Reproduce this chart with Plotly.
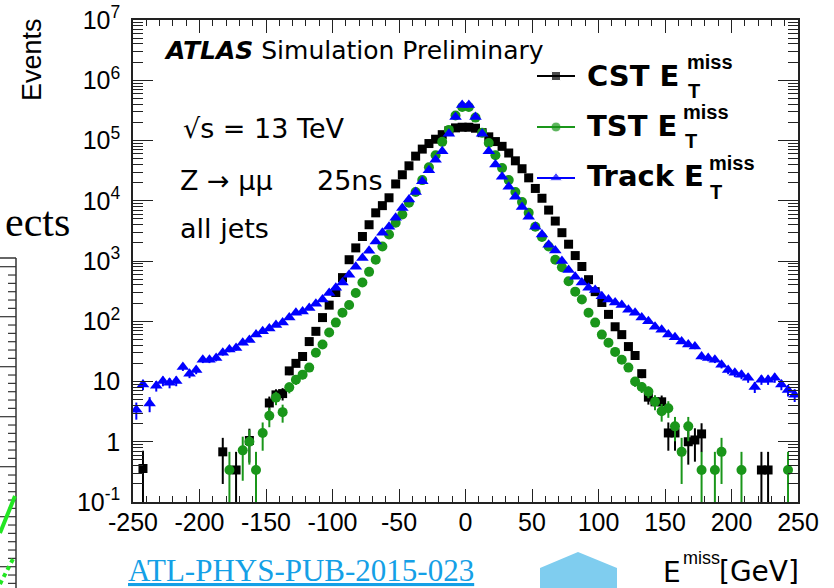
import numpy as np
import plotly.graph_objects as go

W, H = 834, 588

# ---------------- data (5 GeV bins, centres -247.5 ... 247.5) ----------------
bin_centers = [float(v) for v in np.arange(-247.5, 250.0, 5.0)]

# CST E_T^miss  (None = empty bin)
cst = [None, 0.36, None, None, None, None, None, None, None, None,
       None, None, None, 0.68, None, 0.34, None, 1.05, None, None,
       4.4, 6.0, 6.3, 15, 20, 26, 46, 68, 115, 185,
       300, 530, 1050, 1650, 2550, 4000, 6300, 8300, 11200, 19000,
       27000, 38000, 55000, 72000, 89000, 105000, 125000, 145000, 162000, 166000,
       166000, 160000, 135000, 115000, 96000, 80000, 62000, 46000, 34000, 24000,
       16000, 11000, 7000, 4600, 2950, 1900, 1230, 810, 490, 310,
       205, 130, 81, 60, 38, 27, 13.5, 5.5, 4.6, 4.6,
       1.4, 1.4, None, 1.0, 1.07, 1.35, None, None, None, None,
       None, None, None, None, 0.34, 0.34, None, None, None, None]

# TST E_T^miss
tst = [None, None, None, None, None, None, None, None, None, None,
       None, None, None, None, 0.34, None, 0.72, 1.0, 0.34, 1.4,
       2.7, 5.4, 3.1, 8.0, 10.7, 13, 17, 30, 41, 65,
       95, 138, 186, 295, 440, 660, 1050, 1740, 2750, 4300,
       5900, 9300, 14000, 22000, 36000, 57000, 95000, 150000, 260000, 360000,
       360000, 240000, 135000, 91000, 57000, 35000, 22000, 14000, 9500, 6300,
       3700, 2500, 1740, 1050, 790, 460, 310, 230, 138, 95,
       60, 44, 31, 23, 17, 10, 8.1, 6.8, 4.6, 3.2,
       3.6, 1.8, 0.68, 1.8, None, 0.34, None, 0.34, 0.68, None,
       None, 0.34, None, None, None, None, None, None, 0.34, None]

# Track E_T^miss
trk = [3.4, 8.9, 4.3, 8.5, 10.2, 9.5, 10.2, 17.4, 13.5, 15.5,
       23, 23, 24.5, 30, 34, 36, 44, 49, 60, 68,
       76, 87, 95, 115, 138, 145, 166, 195, 230, 295,
       360, 440, 590, 800, 1120, 1480, 2100, 2950, 3700, 5200,
       7600, 10500, 14000, 21000, 32000, 48000, 66000, 129000, 245000, 390000,
       390000, 245000, 129000, 66000, 40000, 25000, 17000, 11700, 7900, 5400,
       3700, 2750, 1860, 1500, 1000, 710, 550, 440, 360, 330,
       260, 230, 205, 186, 155, 138, 115, 100, 81, 72,
       60, 54, 46, 41, 38, 26, 24.5, 23, 19, 15.5,
       14, 13, 11.5, 8.1, 10.7, 10.7, 11.5, 8.9, 7.2, 6.0]

event_weight = 0.34   # MC event weight used for the statistical error bars

x_tickvals = [-250, -200, -150, -100, -50, 0, 50, 100, 150, 200, 250]
x_ticktext = ["-250", "-200", "-150", "-100", "-50", "0", "50", "100", "150", "200", "250"]
y_tickvals = [0.1, 1, 10, 100, 1e3, 1e4, 1e5, 1e6, 1e7]
y_ticktext = ["10<sup>-1</sup>", "1", "10", "10<sup>2</sup>", "10<sup>3</sup>",
              "10<sup>4</sup>", "10<sup>5</sup>", "10<sup>6</sup>", "10<sup>7</sup>"]
y_minor = [m * 10.0 ** e for e in range(-1, 7) for m in range(2, 10)]

FONT = "Liberation Sans, Arial, Helvetica, sans-serif"
WIDE = "DejaVu Sans, Liberation Sans, sans-serif"
SERIF = "Liberation Serif, DejaVu Serif, serif"
BLACK = "#000000"
GREEN = "#1a961a"
BLUE = "#0000ff"

# frame position in pixels
FX0, FX1, FY0, FY1 = 133, 798, 20, 502

fig = go.Figure()


def add_series(vals, color, symbol, size):
    xs, ys, ep, em = [], [], [], []
    for x, v in zip(bin_centers, vals):
        if v is None:
            continue
        e = float(np.sqrt(event_weight * v))
        xs.append(x)
        ys.append(v)
        ep.append(e)
        em.append(min(e, v - 0.02))
    fig.add_trace(go.Scatter(
        x=xs, y=ys, mode="markers",
        marker=dict(symbol=symbol, size=size, color=color, line=dict(width=0)),
        error_y=dict(type="data", symmetric=False, array=ep, arrayminus=em,
                     width=0, thickness=2, color=color),
        showlegend=False, xaxis="x", yaxis="y", hoverinfo="skip"))


add_series(cst, BLACK, "square", 9)
add_series(tst, GREEN, "circle", 10)
add_series(trk, BLUE, "triangle-up", 11)

# ---------------- legend (manual, ROOT style) ----------------
leg_rows = [76, 127, 178]
leg_cols = [BLACK, GREEN, BLUE]
leg_syms = ["square", "circle", "triangle-up"]
leg_size = [9, 10, 11]
shapes = []
for yy, c in zip(leg_rows, leg_cols):
    shapes.append(dict(type="line", xref="x2", yref="y2", x0=537, x1=575, y0=yy, y1=yy,
                       line=dict(color=c, width=2)))
fig.add_trace(go.Scatter(x=[556, 556, 556], y=leg_rows, mode="markers",
                         marker=dict(symbol=leg_syms, size=leg_size, color=leg_cols),
                         xaxis="x2", yaxis="y2", showlegend=False, hoverinfo="skip"))

ann = []


def txt(x, y, s, size, color=BLACK, family=FONT, xanchor="left", yanchor="middle", angle=0):
    ann.append(dict(x=x, y=y, xref="x2", yref="y2", text=s, showarrow=False,
                    xanchor=xanchor, yanchor=yanchor, textangle=angle,
                    font=dict(family=family, size=size, color=color)))


txt(585, 76, "<b>CST E</b>", 29, family=WIDE)
txt(685, 62, "<b>miss</b>", 20)
txt(686, 91, "<b>T</b>", 20)
txt(585, 126, "<b>TST E</b>", 29, family=WIDE)
txt(681, 112, "<b>miss</b>", 20)
txt(683, 141, "<b>T</b>", 20)
txt(585, 176, "<b>Track E</b>", 29, family=WIDE)
txt(707, 163, "<b>miss</b>", 20)
txt(708, 192, "<b>T</b>", 20)

# ATLAS label & info
txt(162, 50, "<b><i>ATLAS</i></b> Simulation Preliminary", 25, family=WIDE)
txt(181, 128, "√s = 13 TeV", 27, family=WIDE)
txt(178, 180, "Z → μμ", 27, family=WIDE)
txt(315, 180, "25ns", 27, family=WIDE)
txt(178, 228, "all jets", 27, family=WIDE)

# axis titles
txt(32, 60, "Events", 27, xanchor="center", angle=-90)
txt(661, 572, "E", 28, family=WIDE)
txt(681, 558, "miss", 18)
txt(681, 592, "x", 18)
txt(717, 571, "[GeV]", 28, family=WIDE)

# slide decorations
txt(72, 222, "ects", 42, family=SERIF, xanchor="right")
txt(126, 570, "<u>ATL-PHYS-PUB-2015-023</u>", 31, color="#14a0e6", family=SERIF)

shapes.append(dict(type="path", xref="x2", yref="y2",
                   path="M 540 590 L 540 568 L 578 552 L 617 568 L 617 590 Z",
                   fillcolor="#7fcdef", line=dict(width=0)))
# partial neighbouring plot on the left edge
shapes.append(dict(type="line", xref="x2", yref="y2", x0=16, x1=16, y0=258, y1=590,
                   line=dict(color="#333", width=1.5)))
shapes.append(dict(type="line", xref="x2", yref="y2", x0=0, x1=16, y0=258, y1=258,
                   line=dict(color="#333", width=1.5)))
for k in range(40):
    yy = 266.7 + k * 50.0 / 6.0
    if yy > 590:
        break
    major = abs(((yy - 316.7) / 50.0) - round((yy - 316.7) / 50.0)) < 0.01
    shapes.append(dict(type="line", xref="x2", yref="y2", x0=0 if major else 8, x1=16,
                       y0=yy, y1=yy, line=dict(color="#333", width=1.2)))
shapes.append(dict(type="line", xref="x2", yref="y2", x0=0, x1=15, y0=533, y1=496,
                   line=dict(color="#22e622", width=4)))
shapes.append(dict(type="line", xref="x2", yref="y2", x0=0, x1=13, y0=584, y1=559,
                   line=dict(color="#22e622", width=4, dash="dot")))

axis_common = dict(showline=True, linecolor="#222", linewidth=1.5, mirror="ticks",
                   ticks="inside", tickcolor="#222", tickwidth=1.2, showgrid=False,
                   zeroline=False, automargin=False,
                   tickfont=dict(family=FONT, size=25, color=BLACK))

fig.update_layout(
    width=W, height=H, margin=dict(l=0, r=0, t=0, b=0, autoexpand=False),
    paper_bgcolor="white", plot_bgcolor="rgba(0,0,0,0)",
    showlegend=False,
    xaxis=dict(domain=[FX0 / W, FX1 / W], range=[-250, 250], anchor="y",
               tickmode="array", tickvals=x_tickvals, ticktext=x_ticktext, ticklen=13,
               ticklabelstandoff=-3,
               minor=dict(ticks="inside", ticklen=6, dtick=10, tick0=0, tickcolor="#222",
                          tickwidth=1.2, showgrid=False),
               **axis_common),
    yaxis=dict(domain=[1 - FY1 / H, 1 - FY0 / H], type="log", range=[-1, 7], anchor="x",
               tickmode="array", tickvals=y_tickvals, ticktext=y_ticktext, ticklen=20,
               ticklabelstandoff=6,
               minor=dict(ticks="inside", ticklen=10, tickmode="array", tickvals=y_minor,
                          tickcolor="#222", tickwidth=1.0, showgrid=False),
               **axis_common),
    xaxis2=dict(domain=[0, 1], range=[0, W], anchor="y2", visible=False, fixedrange=True,
                automargin=False),
    yaxis2=dict(domain=[0, 1], range=[H, 0], anchor="x2", visible=False, fixedrange=True,
                automargin=False),
    shapes=shapes, annotations=ann,
)

fig.write_html("out.html")
